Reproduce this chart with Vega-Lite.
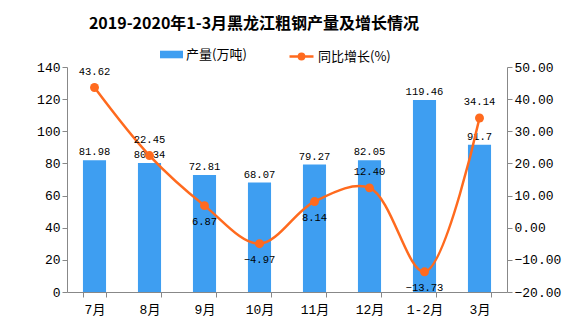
{
  "$schema": "https://vega.github.io/schema/vega-lite/v6.json",
  "width": 440,
  "height": 225,
  "autosize": {"type": "none"},
  "padding": {"left": 67, "top": 67, "right": 69, "bottom": 35},
  "background": "white",
  "title": {
    "text": "2019-2020年1-3月黑龙江粗钢产量及增长情况",
    "font": "Noto Sans CJK SC",
    "fontSize": 16,
    "fontWeight": "bold",
    "color": "#000000",
    "anchor": "middle",
    "dx": -33,
    "offset": 11
  },
  "config": {
    "view": {"stroke": null},
    "axis": {
      "domainColor": "#888888",
      "tickColor": "#888888",
      "grid": false,
      "labelColor": "#000000",
      "labelFont": "'Liberation Mono', 'Noto Sans CJK SC'",
      "labelFontSize": 13,
      "tickSize": 5,
      "title": null
    },
    "legend": {
      "labelFont": "Noto Sans CJK SC",
      "labelFontSize": 13,
      "labelColor": "#000000"
    }
  },
  "data": {
    "values": [
      {"month": "7月", "output": 81.98, "growth": 43.62},
      {"month": "8月", "output": 80.34, "growth": 22.45},
      {"month": "9月", "output": 72.81, "growth": 6.87},
      {"month": "10月", "output": 68.07, "growth": -4.97},
      {"month": "11月", "output": 79.27, "growth": 8.14},
      {"month": "12月", "output": 82.05, "growth": 12.40},
      {"month": "1-2月", "output": 119.46, "growth": -13.73},
      {"month": "3月", "output": 91.7, "growth": 34.14}
    ]
  },
  "encoding": {
    "x": {
      "field": "month",
      "type": "nominal",
      "sort": null,
      "scale": {"paddingInner": 0.58, "paddingOuter": 0.29},
      "axis": {"labelAngle": 0, "tickBand": "extent", "labelPadding": 6}
    }
  },
  "layer": [
    {
      "encoding": {
        "y": {
          "field": "output",
          "type": "quantitative",
          "scale": {"domain": [0, 140], "nice": false},
          "axis": {"orient": "left", "values": [0, 20, 40, 60, 80, 100, 120, 140]}
        }
      },
      "layer": [
        {
          "mark": {"type": "bar"},
          "encoding": {
            "fill": {
              "datum": "产量(万吨)",
              "scale": {"range": ["#3E9EF1"]},
              "legend": {
                "orient": "none",
                "legendX": 93,
                "legendY": -24,
                "title": null,
                "symbolType": "M-1,-0.33H1V0.33H-1Z",
                "symbolSize": 529,
                "symbolStrokeWidth": 0,
                "labelOffset": 3
              }
            }
          }
        },
        {
          "mark": {"type": "text", "dy": -8, "font": "Liberation Mono", "fontSize": 10.5, "color": "#000000"},
          "encoding": {
            "text": {"field": "output", "type": "quantitative"}
          }
        }
      ]
    },
    {
      "encoding": {
        "y": {
          "field": "growth",
          "type": "quantitative",
          "scale": {"domain": [-20, 50], "nice": false},
          "axis": {"orient": "right", "format": ".2f", "values": [-20, -10, 0, 10, 20, 30, 40, 50]}
        }
      },
      "layer": [
        {
          "mark": {"type": "line", "interpolate": "catmull-rom", "strokeWidth": 2.5},
          "encoding": {
            "stroke": {
              "datum": "同比增长(%)",
              "scale": {"range": ["#FF6A1E"]},
              "legend": {
                "orient": "none",
                "legendX": 221,
                "legendY": -24,
                "title": null,
                "symbolType": "M-1,0H1M-0.22,0A0.22,0.22 0 1,0 0.22,0A0.22,0.22 0 1,0 -0.22,0Z",
                "symbolSize": 576,
                "symbolStrokeWidth": 2.5,
                "symbolFillColor": "#FF6A1E",
                "labelOffset": 3
              }
            }
          }
        },
        {
          "mark": {"type": "point", "filled": true, "size": 80, "color": "#FF6A1E", "opacity": 1},
          "encoding": {}
        },
        {
          "transform": [{"filter": {"field": "month", "oneOf": ["7月", "8月", "12月", "3月"]}}],
          "mark": {"type": "text", "dy": -16, "font": "Liberation Mono", "fontSize": 10.5, "color": "#000000"},
          "encoding": {
            "text": {"field": "growth", "type": "quantitative", "format": ".2f"}
          }
        },
        {
          "transform": [{"filter": {"field": "month", "oneOf": ["9月", "10月", "11月", "1-2月"]}}],
          "mark": {"type": "text", "dy": 16, "font": "Liberation Mono", "fontSize": 10.5, "color": "#000000"},
          "encoding": {
            "text": {"field": "growth", "type": "quantitative", "format": ".2f"}
          }
        }
      ]
    }
  ],
  "resolve": {"scale": {"y": "independent", "fill": "independent", "stroke": "independent"}}
}
